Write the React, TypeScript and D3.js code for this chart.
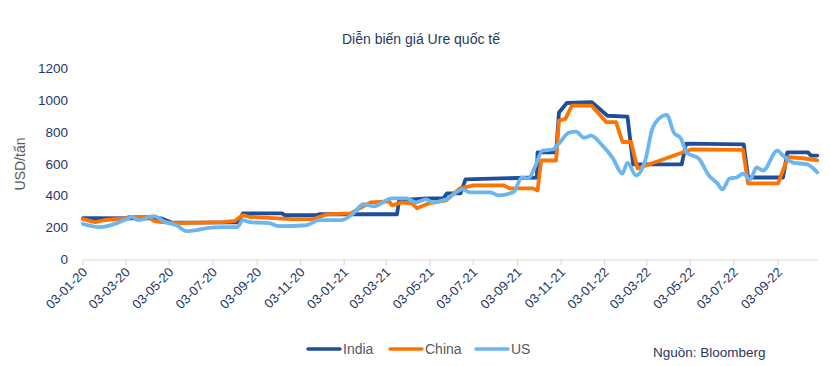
import * as d3 from "d3";

type Point = [string, number];

const TITLE = "Diễn biến giá Ure quốc tế";
const Y_LABEL = "USD/tấn";
const SOURCE = "Nguồn: Bloomberg";
const Y_TICKS = [0, 200, 400, 600, 800, 1000, 1200];
const X_TICKS = [
  "2020-01-03", "2020-03-03", "2020-05-03", "2020-07-03", "2020-09-03", "2020-11-03",
  "2021-01-03", "2021-03-03", "2021-05-03", "2021-07-03", "2021-09-03", "2021-11-03",
  "2022-01-03", "2022-03-03", "2022-05-03", "2022-07-03", "2022-09-03",
];

const india: Point[] = [
  ["2020-01-03", 256], ["2020-04-22", 255], ["2020-05-07", 228], ["2020-08-07", 230],
  ["2020-08-14", 287], ["2020-10-08", 287], ["2020-10-11", 276], ["2020-11-25", 276],
  ["2020-11-29", 281], ["2021-03-18", 281], ["2021-03-21", 369], ["2021-05-01", 381],
  ["2021-05-22", 381], ["2021-05-27", 412], ["2021-06-15", 412], ["2021-06-22", 500],
  ["2021-08-10", 506], ["2021-09-30", 512], ["2021-10-01", 670], ["2021-10-27", 670],
  ["2021-10-31", 920], ["2021-11-11", 980], ["2021-12-16", 985], ["2022-01-07", 900],
  ["2022-02-04", 894], ["2022-02-12", 594], ["2022-04-21", 594], ["2022-04-27", 725],
  ["2022-07-17", 720], ["2022-07-23", 512], ["2022-09-10", 512], ["2022-09-16", 670],
  ["2022-10-15", 670], ["2022-10-19", 650], ["2022-10-28", 650],
];

const china: Point[] = [
  ["2020-01-03", 250], ["2020-01-20", 232], ["2020-02-03", 245], ["2020-03-03", 255],
  ["2020-03-07", 264], ["2020-04-04", 265], ["2020-04-11", 240], ["2020-04-22", 232],
  ["2020-05-17", 226], ["2020-07-17", 232], ["2020-08-03", 240], ["2020-08-14", 276],
  ["2020-08-24", 264], ["2020-09-06", 262], ["2020-10-22", 250], ["2020-11-20", 250],
  ["2020-12-10", 281], ["2021-01-12", 287], ["2021-02-09", 356], ["2021-03-07", 362],
  ["2021-03-11", 337], ["2021-03-25", 356], ["2021-04-08", 350], ["2021-04-15", 319],
  ["2021-05-02", 350], ["2021-05-26", 369], ["2021-06-14", 444], ["2021-07-03", 463],
  ["2021-08-14", 463], ["2021-08-23", 444], ["2021-09-24", 444], ["2021-10-01", 431],
  ["2021-10-06", 619], ["2021-10-27", 619], ["2021-10-31", 870], ["2021-11-09", 880],
  ["2021-11-18", 963], ["2021-12-16", 963], ["2022-01-05", 860], ["2022-01-19", 860],
  ["2022-01-28", 735], ["2022-02-09", 735], ["2022-02-18", 569], ["2022-05-04", 688],
  ["2022-07-16", 685], ["2022-07-23", 475], ["2022-09-03", 475], ["2022-09-17", 640],
  ["2022-10-08", 633], ["2022-10-28", 620],
];

const us: Point[] = [
  ["2020-01-03", 220], ["2020-01-27", 200], ["2020-03-07", 256], ["2020-03-11", 264],
  ["2020-03-21", 244], ["2020-04-11", 269], ["2020-04-28", 231], ["2020-05-13", 212],
  ["2020-05-27", 175], ["2020-06-10", 181], ["2020-06-25", 194], ["2020-07-17", 200],
  ["2020-08-06", 200], ["2020-08-14", 244], ["2020-08-24", 231], ["2020-09-20", 225],
  ["2020-10-04", 206], ["2020-11-11", 212], ["2020-11-29", 244], ["2020-12-30", 244],
  ["2021-01-16", 287], ["2021-01-30", 344], ["2021-02-13", 331], ["2021-03-11", 381],
  ["2021-03-31", 381], ["2021-04-14", 356], ["2021-04-28", 375], ["2021-05-06", 356],
  ["2021-05-26", 375], ["2021-06-18", 437], ["2021-06-28", 419], ["2021-07-27", 419],
  ["2021-08-07", 400], ["2021-08-28", 419], ["2021-09-09", 512], ["2021-09-18", 506],
  ["2021-09-27", 575], ["2021-10-08", 681], ["2021-10-22", 688], ["2021-10-31", 725],
  ["2021-11-14", 794], ["2021-11-24", 800], ["2021-12-05", 762], ["2021-12-15", 775],
  ["2021-12-31", 712], ["2022-01-14", 637], ["2022-01-28", 537], ["2022-02-04", 606],
  ["2022-02-16", 525], ["2022-03-02", 637], ["2022-03-10", 806], ["2022-03-20", 881],
  ["2022-03-31", 906], ["2022-04-10", 794], ["2022-04-20", 756], ["2022-04-28", 669],
  ["2022-05-15", 631], ["2022-05-29", 525], ["2022-06-10", 475], ["2022-06-17", 437],
  ["2022-06-27", 506], ["2022-07-07", 512], ["2022-07-16", 537], ["2022-07-26", 500],
  ["2022-08-04", 575], ["2022-08-13", 556], ["2022-09-02", 681], ["2022-09-10", 650],
  ["2022-09-24", 606], ["2022-10-14", 594], ["2022-10-28", 544],
];

const SERIES = [
  { name: "India", data: india, color: "#1f4e9a", curve: d3.curveLinear },
  { name: "China", data: china, color: "#ff7300", curve: d3.curveLinear },
  { name: "US", data: us, color: "#6cb6f0", curve: d3.curveMonotoneX },
];

const WIDTH = 830;
const HEIGHT = 366;
const LEFT = 83;
const RIGHT = 818;
const TOP = 68;
const BOTTOM = 259;
const NAVY = "#1f3864";
const GREY = "#595959";
const FONT = "'Liberation Sans', Arial, sans-serif";

const parse = d3.timeParse("%Y-%m-%d");
const fmt = d3.timeFormat("%d-%m-%y");

export default function App() {
  const x = d3.scaleTime()
    .domain([parse("2020-01-03")!, parse("2022-10-29")!])
    .range([LEFT, RIGHT]);
  const y = d3.scaleLinear().domain([0, 1200]).range([BOTTOM, TOP]);

  const legendX = [308, 390, 476];

  return (
    <svg width={WIDTH} height={HEIGHT} style={{ position: "absolute", left: 0, top: 0, background: "#fff" }} fontFamily={FONT}>
      <text x={421} y={44} textAnchor="middle" fontSize="14" fill={NAVY}>{TITLE}</text>

      {Y_TICKS.map((t) => (
        <text key={t} x={68} y={y(t) + 5} textAnchor="end" fontSize="13.5" fill={NAVY}>{t}</text>
      ))}
      <text transform={`translate(25 ${164}) rotate(-90)`} textAnchor="middle" fontSize="14" fill={GREY}>{Y_LABEL}</text>

      <line x1={LEFT} x2={RIGHT} y1={BOTTOM + 1} y2={BOTTOM + 1} stroke="#d9d9d9" strokeWidth="1.2" />
      {X_TICKS.map((d) => {
        const px = x(parse(d)!);
        return (
          <g key={d}>
            <line x1={px} x2={px} y1={BOTTOM + 1} y2={BOTTOM + 6} stroke="#d9d9d9" strokeWidth="1.2" />
            <text transform={`translate(${px + 5} ${BOTTOM + 14}) rotate(-45)`} textAnchor="end" fontSize="13" fill={NAVY}>
              {fmt(parse(d)!)}
            </text>
          </g>
        );
      })}

      {SERIES.map((s) => {
        const line = d3.line<Point>()
          .x((p) => x(parse(p[0])!))
          .y((p) => y(p[1]))
          .curve(s.curve);
        return (
          <path key={s.name} d={line(s.data) ?? undefined} fill="none" stroke={s.color} strokeWidth="3.8" strokeLinejoin="round" strokeLinecap="round" />
        );
      })}

      {SERIES.map((s, i) => (
        <g key={s.name}>
          <line x1={legendX[i]} x2={legendX[i] + 32} y1={349} y2={349} stroke={s.color} strokeWidth="3.5" strokeLinecap="round" />
          <text x={legendX[i] + 35} y={354} fontSize="14" fill={GREY}>{s.name}</text>
        </g>
      ))}
      <text x={653} y={357} fontSize="13.5" fill={NAVY}>{SOURCE}</text>
    </svg>
  );
}
